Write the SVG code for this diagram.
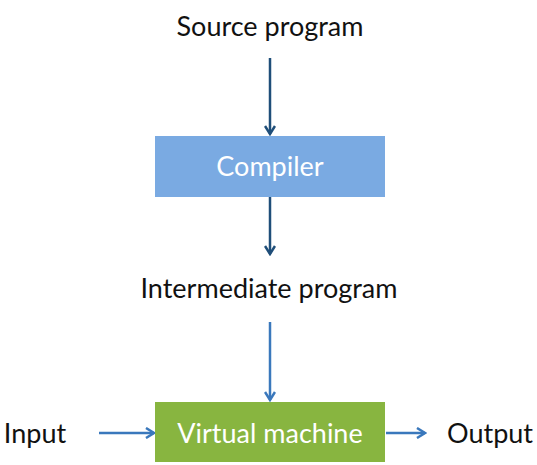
<svg xmlns="http://www.w3.org/2000/svg" width="537" height="465" viewBox="0 0 537 465">
<defs>
<style>
.t{font-family:Lato,"Open Sans",sans-serif;font-size:27px;fill:#111;text-anchor:middle}
.w{fill:#fff}
.c1{stroke:#1f4e79;stroke-width:2.5;fill:none}
.c2{stroke:#3a78bc;stroke-width:2.5;fill:none}
</style>
<marker id="a1" viewBox="0 0 12 12" refX="10" refY="6" markerWidth="12" markerHeight="12" markerUnits="userSpaceOnUse" orient="auto">
<path d="M2,1 L10,6 L2,11" fill="none" stroke="#1f4e79" stroke-width="2.5"/>
</marker>
<marker id="a2" viewBox="0 0 12 12" refX="10" refY="6" markerWidth="12" markerHeight="12" markerUnits="userSpaceOnUse" orient="auto">
<path d="M2,1 L10,6 L2,11" fill="none" stroke="#3a78bc" stroke-width="2.5"/>
</marker>
</defs>
<rect width="537" height="465" fill="#fff"/>
<g id="connectors">
<line class="c1" x1="270" y1="58" x2="270" y2="134" marker-end="url(#a1)"/>
<line class="c1" x1="270" y1="197" x2="270" y2="254" marker-end="url(#a1)"/>
<line class="c2" x1="270" y1="322" x2="270" y2="400" marker-end="url(#a2)"/>
<line class="c2" x1="99" y1="433" x2="154" y2="433" marker-end="url(#a2)"/>
<line class="c2" x1="386" y1="433" x2="425" y2="433" marker-end="url(#a2)"/>
</g>
<g id="source"><text class="t" x="270" y="36">Source program</text></g>
<g id="compiler"><rect x="155" y="136" width="230" height="61" fill="#7aaae2"/><text class="t w" x="270" y="176">Compiler</text></g>
<g id="intermediate"><text class="t" x="269" y="298">Intermediate program</text></g>
<g id="vm"><rect x="155" y="402" width="230" height="60" fill="#88b540"/><text class="t w" x="270" y="443">Virtual machine</text></g>
<g id="input"><text class="t" x="35" y="443">Input</text></g>
<g id="output"><text class="t" x="490" y="443">Output</text></g>
</svg>
